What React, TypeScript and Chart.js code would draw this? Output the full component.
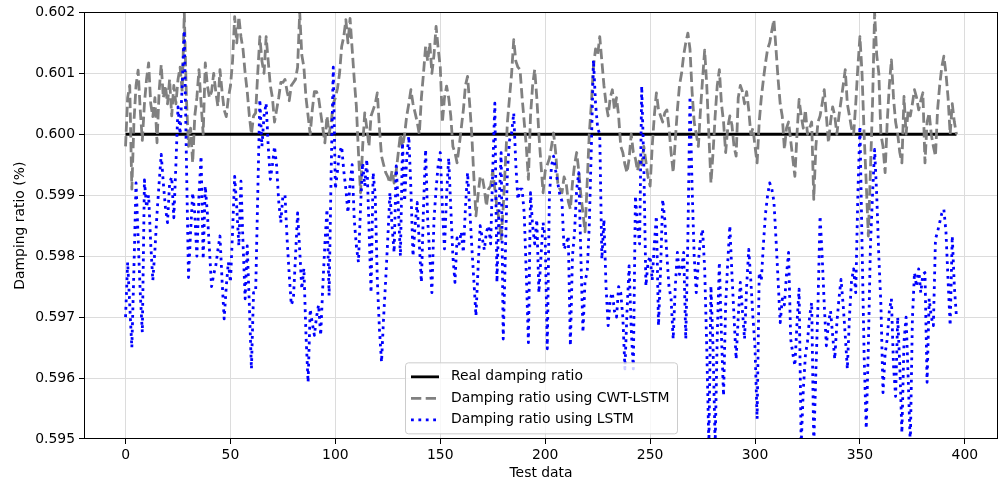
import React, { useEffect, useRef } from "react";
import { Chart, registerables } from "chart.js";

Chart.register(...registerables);

const xTickValues = [0, 50, 100, 150, 200, 250, 300, 350, 400];
const yTickValues = [0.595, 0.596, 0.597, 0.598, 0.599, 0.6, 0.601, 0.602];
const seriesNames = [
  "Real damping ratio",
  "Damping ratio using CWT-LSTM",
  "Damping ratio using LSTM",
];

const realX = [0, 396];
const realY = [0.6, 0.6];

const cwtLstm = [
  0.5998, 0.6006, 0.6008, 0.5991, 0.6002, 0.6008, 0.60105, 0.6004, 0.5999, 0.6005,
  0.6009, 0.60117, 0.6005, 0.60029, 0.6006, 0.59986, 0.6007, 0.60114, 0.6006, 0.6008,
  0.6005, 0.6009, 0.6003, 0.6008, 0.6005, 0.6009, 0.6011, 0.6007, 0.60199, 0.6006,
  0.5998, 0.6001, 0.59953, 0.6003, 0.6006, 0.60106, 0.6005, 0.6, 0.60117, 0.6008,
  0.6006, 0.6007, 0.601, 0.6007, 0.60046, 0.60106, 0.6007, 0.6004, 0.60029, 0.6006,
  0.60079, 0.6012, 0.60193, 0.6015, 0.60193, 0.6016, 0.60139, 0.601, 0.6007, 0.6003,
  0.6, 0.6003, 0.60035, 0.601, 0.6016, 0.6012, 0.601, 0.6016, 0.6012, 0.6008,
  0.6006, 0.6002, 0.6004, 0.6006, 0.60085, 0.60085, 0.6009, 0.6007, 0.60055, 0.6008,
  0.60085, 0.6009, 0.6011, 0.602, 0.6013, 0.6011, 0.6006, 0.6003, 0.6, 0.6004,
  0.6007, 0.6007, 0.6006, 0.60035, 0.6001, 0.59986, 0.6003, 0.6, 0.6002, 0.6005,
  0.6006, 0.60075, 0.601, 0.60144, 0.6016, 0.60188, 0.6015, 0.6019, 0.6014, 0.6009,
  0.60046, 0.5997, 0.59904, 0.5998, 0.60035, 0.6001, 0.5998, 0.6003, 0.6004, 0.6005,
  0.60068, 0.6001, 0.59964, 0.5995, 0.59937, 0.5993, 0.5992, 0.5994, 0.5992, 0.5994,
  0.5997, 0.6, 0.5998, 0.6, 0.6003, 0.6005, 0.60073, 0.6005, 0.60035, 0.6002,
  0.6, 0.6006, 0.601, 0.60144, 0.6012, 0.6015, 0.601, 0.6013, 0.60177, 0.6014,
  0.6011, 0.60019, 0.6006, 0.60079, 0.6006, 0.6003, 0.5998, 0.5997, 0.59953, 0.5998,
  0.6001, 0.6004, 0.6008, 0.60095, 0.6005, 0.6, 0.5993, 0.59866, 0.599, 0.5993,
  0.5993, 0.5991, 0.59882, 0.5991, 0.59915, 0.5994, 0.5991, 0.5988, 0.5986, 0.59828,
  0.5988, 0.5995, 0.6002, 0.6006, 0.601, 0.60155, 0.6012, 0.6011, 0.60106, 0.6006,
  0.6002, 0.5998, 0.59926, 0.6003, 0.6008, 0.60106, 0.6006, 0.6, 0.5995, 0.59904,
  0.5994, 0.5995, 0.5996, 0.5998, 0.60002, 0.5997, 0.5992, 0.5991, 0.59904, 0.5993,
  0.5992, 0.5989, 0.59877, 0.5992, 0.5995, 0.5997, 0.5994, 0.599, 0.59871, 0.5984,
  0.5992, 0.6, 0.6005, 0.60111, 0.6014, 0.6013, 0.6016, 0.6012, 0.6008, 0.6005,
  0.6003, 0.6006, 0.60073, 0.6004, 0.6006, 0.6003, 0.5998, 0.5997, 0.5995, 0.59937,
  0.5996, 0.6, 0.5997, 0.5996, 0.5994, 0.5996, 0.5995, 0.5998, 0.59955, 0.5993,
  0.59915, 0.5998, 0.6003, 0.60068, 0.6004, 0.6003, 0.6002, 0.60035, 0.6004, 0.6001,
  0.5997, 0.59937, 0.5999, 0.6004, 0.6008, 0.601, 0.6013, 0.6015, 0.60166, 0.6014,
  0.6007, 0.6002, 0.6, 0.5998, 0.6004, 0.6009, 0.60138, 0.6008, 0.6, 0.5992,
  0.5997, 0.6003, 0.6008, 0.60106, 0.6005, 0.6002, 0.5997, 0.6001, 0.6003, 0.60015,
  0.5998, 0.59964, 0.6006, 0.6008, 0.6007, 0.6005, 0.6007, 0.6004, 0.6, 0.6001,
  0.5998, 0.59953, 0.6002, 0.6006, 0.6009, 0.60117, 0.6014, 0.6015, 0.6017, 0.60188,
  0.6014, 0.6009, 0.6005, 0.60029, 0.59975, 0.6001, 0.6002, 0.5999, 0.5996, 0.59931,
  0.6, 0.60057, 0.6003, 0.6001, 0.6004, 0.6, 0.6001, 0.6002, 0.59893, 0.5998,
  0.6002, 0.6003, 0.6005, 0.60073, 0.6003, 0.59986, 0.6002, 0.60045, 0.6003, 0.6,
  0.6003, 0.60055, 0.6008, 0.60106, 0.6005, 0.6003, 0.6001, 0.6, 0.6005, 0.6011,
  0.6016, 0.601, 0.6, 0.5992, 0.59833, 0.5994, 0.6005, 0.60199, 0.6013, 0.601,
  0.6, 0.5998, 0.59937, 0.6002, 0.6008, 0.60122, 0.6006, 0.6002, 0.6, 0.5997,
  0.59953, 0.60062, 0.6, 0.6004, 0.6003, 0.6005, 0.60073, 0.6006, 0.6004, 0.60055,
  0.60068, 0.59953, 0.6002, 0.60035, 0.6, 0.5998, 0.59964, 0.6004, 0.6008, 0.6011,
  0.60128, 0.601, 0.6006, 0.6, 0.6005, 0.6002, 0.6,
];

const lstm = [
  0.597, 0.5979, 0.5972, 0.5965, 0.5978, 0.5992, 0.5983, 0.5974, 0.59675, 0.59925,
  0.5988, 0.599, 0.5982, 0.5976, 0.5981, 0.5987, 0.5992, 0.59967, 0.5992, 0.5988,
  0.59855, 0.5992, 0.5993, 0.59863, 0.5995, 0.60045, 0.6, 0.6008, 0.6017, 0.5996,
  0.59765, 0.5984, 0.59904, 0.5987, 0.598, 0.599, 0.59964, 0.59795, 0.59915, 0.5987,
  0.5981, 0.5975, 0.5977, 0.59784, 0.5981, 0.59833, 0.5976, 0.59697, 0.5975, 0.5979,
  0.59757, 0.5984, 0.59931, 0.5988, 0.59817, 0.59923, 0.5982, 0.5973, 0.59817, 0.5972,
  0.59615, 0.5974, 0.5974, 0.599, 0.60057, 0.5998, 0.6003, 0.60051, 0.5998, 0.59926,
  0.5995, 0.5998, 0.59948, 0.5989, 0.59855, 0.599, 0.599, 0.59828, 0.5977, 0.5972,
  0.5973, 0.598, 0.59871, 0.5981, 0.59746, 0.5978, 0.5967, 0.59593, 0.59713, 0.5969,
  0.5967, 0.597, 0.5972, 0.5967, 0.5975, 0.5982, 0.59877, 0.59735, 0.5994, 0.6011,
  0.5991, 0.5994, 0.5997, 0.5998, 0.5994, 0.5991, 0.59871, 0.5992, 0.5995, 0.5986,
  0.59817, 0.5979, 0.5988, 0.59953, 0.59915, 0.59959, 0.5985, 0.5974, 0.59937, 0.599,
  0.5976, 0.5968, 0.59626, 0.597, 0.59762, 0.5983, 0.59904, 0.5985, 0.59806, 0.59948,
  0.5988, 0.598, 0.59986, 0.5989, 0.5996, 0.59997, 0.5991, 0.598, 0.5985, 0.59888,
  0.5982, 0.59757, 0.5988, 0.59975, 0.5986, 0.598, 0.5974, 0.5986, 0.5991, 0.5995,
  0.5997, 0.5988, 0.59812, 0.599, 0.59961, 0.5988, 0.598, 0.59757, 0.5983, 0.5982,
  0.5984, 0.59806, 0.5988, 0.59937, 0.5988, 0.59817, 0.5976, 0.59702, 0.5978, 0.5985,
  0.5983, 0.5981, 0.5984, 0.5985, 0.5982, 0.5994, 0.60051, 0.59757, 0.5988, 0.5997,
  0.59664, 0.598, 0.5994, 0.5999, 0.60002, 0.60035, 0.5995, 0.59893, 0.5991, 0.5991,
  0.5987, 0.5977, 0.59658, 0.59904, 0.5985, 0.5982, 0.5986, 0.5974, 0.598, 0.59855,
  0.5983, 0.59648, 0.599, 0.59948, 0.59964, 0.5994, 0.5992, 0.599, 0.5989, 0.59811,
  0.5982, 0.59833, 0.59653, 0.598, 0.5984, 0.5991, 0.59937, 0.598, 0.59675, 0.5976,
  0.59773, 0.5985, 0.5998, 0.60122, 0.6005, 0.6001, 0.6, 0.59795, 0.5986, 0.5975,
  0.59686, 0.5973, 0.5974, 0.5971, 0.597, 0.5975, 0.5974, 0.597, 0.59615, 0.5971,
  0.59784, 0.5968, 0.59615, 0.59899, 0.5985, 0.5982, 0.60079, 0.5995, 0.59751, 0.5979,
  0.598, 0.5976, 0.5982, 0.59866, 0.59686, 0.5978, 0.59893, 0.5986, 0.598, 0.5975,
  0.5973, 0.59664, 0.5975, 0.59806, 0.5977, 0.5978, 0.59806, 0.59664, 0.5983, 0.60062,
  0.59915, 0.598, 0.5974, 0.5979, 0.59828, 0.59844, 0.5978, 0.5965, 0.5949, 0.59751,
  0.5965, 0.5949, 0.5967, 0.5979, 0.5967, 0.59571, 0.5972, 0.5979, 0.5985, 0.5977,
  0.597, 0.59631, 0.597, 0.59757, 0.5971, 0.59664, 0.5975, 0.59811, 0.5976, 0.597,
  0.5965, 0.59533, 0.59773, 0.5976, 0.5982, 0.5987, 0.599, 0.5992, 0.5991, 0.5989,
  0.59828, 0.5976, 0.59691, 0.5973, 0.5972, 0.5977, 0.59806, 0.59664, 0.5964, 0.5962,
  0.5969, 0.59746, 0.5949, 0.5958, 0.59637, 0.5966, 0.597, 0.59724, 0.5949, 0.5961,
  0.5972, 0.59866, 0.598, 0.5972, 0.59653, 0.5969, 0.5971, 0.5967, 0.59631, 0.5969,
  0.5973, 0.59762, 0.5972, 0.5967, 0.59615, 0.597, 0.5976, 0.59779, 0.5974, 0.599,
  0.60013, 0.5982, 0.59637, 0.59517, 0.5965, 0.59817, 0.599, 0.59975, 0.599, 0.598,
  0.5972, 0.59576, 0.5964, 0.59664, 0.5971, 0.5973, 0.5962, 0.5957, 0.597, 0.5962,
  0.5951, 0.5966, 0.597, 0.596, 0.5949, 0.59697, 0.59773, 0.5975, 0.59779, 0.5974,
  0.5977, 0.59773, 0.59593, 0.5973, 0.597, 0.59686, 0.59828, 0.5984, 0.59855, 0.5987,
  0.59877, 0.5984, 0.5976, 0.59686, 0.59833, 0.5975, 0.597,
];

const FONT_FAMILY = '"DejaVu Sans", "Liberation Sans", sans-serif';
const FONT_SIZE = 13.9;
const TEXT_COLOR = "#000000";

const framePlugin = {
  id: "mplFrame",
  afterDatasetsDraw(chart: any) {
    const { ctx, chartArea } = chart;
    ctx.save();
    ctx.strokeStyle = "#000000";
    ctx.lineWidth = 1;
    ctx.strokeRect(
      Math.round(chartArea.left) + 0.5,
      Math.round(chartArea.top) + 0.5,
      Math.round(chartArea.right - chartArea.left) - 1,
      Math.round(chartArea.bottom - chartArea.top) - 1
    );
    ctx.restore();
  },
};

const legendPlugin = {
  id: "mplLegend",
  afterDraw(chart: any) {
    const { ctx, chartArea } = chart;
    const bx = chartArea.left + 321;
    const by = chartArea.top + 350;
    const bw = 272;
    const bh = 71;
    ctx.save();
    ctx.beginPath();
    if (ctx.roundRect) ctx.roundRect(bx + 0.5, by + 0.5, bw, bh, 3);
    else ctx.rect(bx + 0.5, by + 0.5, bw, bh);
    ctx.fillStyle = "rgba(255,255,255,0.8)";
    ctx.fill();
    ctx.strokeStyle = "#cccccc";
    ctx.lineWidth = 1;
    ctx.stroke();

    chart.data.datasets.forEach((ds: any, k: number) => {
      const cy = by + 14.5 + k * 21.5;
      ctx.save();
      ctx.beginPath();
      ctx.strokeStyle = ds.borderColor;
      ctx.lineWidth = ds.borderWidth;
      ctx.lineCap = "butt";
      ctx.setLineDash(ds.borderDash || []);
      ctx.moveTo(bx + 6, cy);
      ctx.lineTo(bx + 34, cy);
      ctx.stroke();
      ctx.restore();
      ctx.fillStyle = TEXT_COLOR;
      ctx.font = `${FONT_SIZE}px ${FONT_FAMILY}`;
      ctx.textBaseline = "middle";
      ctx.textAlign = "left";
      ctx.fillText(ds.label, bx + 46, cy);
    });
    ctx.restore();
  },
};

export default function App() {
  const canvasRef = useRef<HTMLCanvasElement | null>(null);

  useEffect(() => {
    if (!canvasRef.current) return;
    const font = { family: FONT_FAMILY, size: FONT_SIZE };
    const chart = new Chart(canvasRef.current, {
      type: "line",
      data: {
        datasets: [
          {
            label: seriesNames[0],
            data: realX.map((x, k) => ({ x, y: realY[k] })),
            borderColor: "#000000",
            borderWidth: 2.8,
            pointRadius: 0,
            borderJoinStyle: "round",
            clip: 0,
            order: 3,
          },
          {
            label: seriesNames[1],
            data: cwtLstm.map((y, i) => ({ x: i, y })),
            borderColor: "#808080",
            borderWidth: 2.8,
            borderDash: [10.3, 4.4],
            borderCapStyle: "butt",
            borderJoinStyle: "round",
            pointRadius: 0,
            clip: 0,
            order: 2,
          },
          {
            label: seriesNames[2],
            data: lstm.map((y, i) => ({ x: i, y })),
            borderColor: "#0000ff",
            borderWidth: 2.8,
            borderDash: [2.8, 4.6],
            borderCapStyle: "butt",
            borderJoinStyle: "round",
            pointRadius: 0,
            clip: 0,
            order: 1,
          },
        ] as any,
      },
      options: {
        animation: false,
        responsive: false,
        devicePixelRatio: 1,
        layout: { padding: { top: 11, right: 8, left: 0, bottom: 0 } },
        plugins: {
          legend: { display: false },
          tooltip: { enabled: false },
        },
        scales: {
          x: {
            type: "linear",
            min: -19.8,
            max: 415.8,
            afterBuildTicks: (s: any) => {
              s.ticks = xTickValues.map((v) => ({ value: v }));
            },
            afterFit: (s: any) => {
              s.height = 45;
            },
            border: { display: false },
            grid: {
              color: "#dcdcdc",
              lineWidth: 1,
              drawTicks: true,
              tickLength: 5,
              tickColor: "#000000",
            },
            ticks: {
              font,
              color: TEXT_COLOR,
              padding: 3,
              maxRotation: 0,
              autoSkip: false,
              callback: (v: any) => String(v),
            },
            title: {
              display: true,
              text: "Test data",
              font,
              color: TEXT_COLOR,
              padding: { top: 0, bottom: 2 },
            },
          },
          y: {
            type: "linear",
            min: 0.595,
            max: 0.602,
            afterBuildTicks: (s: any) => {
              s.ticks = yTickValues.map((v) => ({ value: v }));
            },
            afterFit: (s: any) => {
              s.width = 84;
            },
            border: { display: false },
            grid: {
              color: "#dcdcdc",
              lineWidth: 1,
              drawTicks: true,
              tickLength: 5,
              tickColor: "#000000",
            },
            ticks: {
              font,
              color: TEXT_COLOR,
              padding: 4,
              autoSkip: false,
              callback: (v: any) => Number(v).toFixed(3),
            },
            title: {
              display: true,
              text: "Damping ratio (%)",
              font,
              color: TEXT_COLOR,
              padding: { top: 12, bottom: 0 },
            },
          },
        },
      } as any,
      plugins: [framePlugin, legendPlugin],
    });
    return () => chart.destroy();
  }, []);

  return (
    <div style={{ position: "absolute", left: 0, top: 0, width: 1006, height: 484, background: "#ffffff" }}>
      <canvas ref={canvasRef} width={1006} height={484} style={{ display: "block", width: 1006, height: 484 }} />
    </div>
  );
}
